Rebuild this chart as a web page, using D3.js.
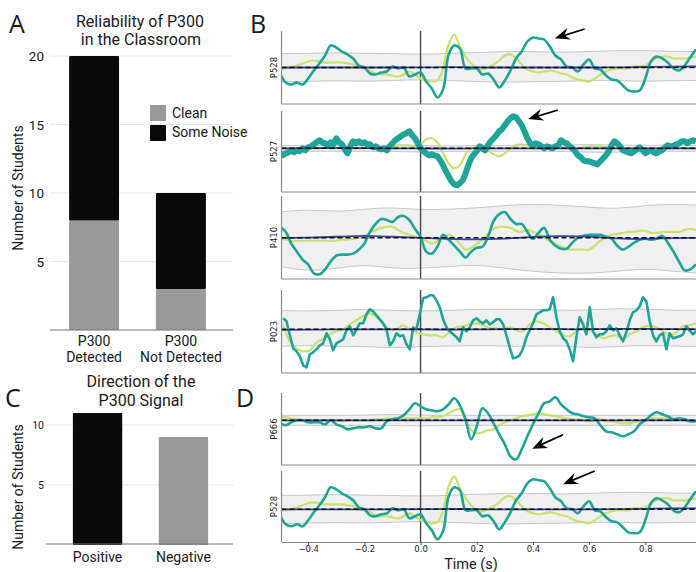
<!DOCTYPE html>
<html>
<head>
<meta charset="utf-8">
<script src="https://cdn.jsdelivr.net/npm/d3@7"></script>
<style>
  body { margin: 0; background: #fff; }
  svg { display: block; }
  text { font-family: Roboto, sans-serif; fill: #1a1a1a; }
  .mpl text { font-family: 'DejaVu Sans', sans-serif; }
</style>
</head>
<body>
<div id="graf"></div>
<script>
// ---- A: reliability of the P300 ----
const relCategories = ['P300 Detected', 'P300 Not Detected']
const relClean = [8, 3]
const relNoise = [12, 7]
const relTicks = [5, 10, 15, 20]

// ---- C: direction of the P300 ----
const dirCategories = ['Positive', 'Negative']
const dirCounts = [11, 9]
const dirTicks = [5, 10]

// ---- B / D: single-student ERPs (amplitude, a.u.) ----
const timeTicks = [-0.4, -0.2, 0, 0.2, 0.4, 0.6, 0.8, 1.0]

// sampled every 20 ms from -0.5 s
const p528Teal = [-6, -15, -17, -15, -17, -11, -3, 4, 12, 22,
  20, 16, 13, 9, 2, 0, -6, -7, -5, -4,
  1, -1, 0, -9, -7, -5, -14, -21, -30, -22,
  13, 22, 19, -1, -1, -1, -7, -6, -12, -20,
  -13, -3, 9, 16, 26, 30, 29, 28, 21, 12,
  8, 1, 0, -4, 3, 8, -1, -2, -8, -12,
  -13, -18, -23, -24, -23, -11, 6, 11, 9, 5,
  -1, -3, 2, 10, 18]
const p528Yellow = [-1, -1, 0, 2, 4, 6, 7, 6, 5, 5,
  5, 5, 4, 3, 0, -1, -3, -6, -7, -7,
  -8, -9, -7, -4, -7, -11, -13, -14, -13, -1,
  23, 33, 21, 11, 4, -1, -2, 0, 3, 7,
  12, 13, 9, 3, -2, -4, -5, -4, -3, -4,
  -6, -7, -10, -12, -13, -14, -11, -7, -4, -2,
  -1, -1, -1, 1, 1, 2, 6, 9, 11, 11,
  9, 9, 9, 10, 11]

// sampled every 10 ms from -0.5 s
const p527Teal = [-5, -7, -5, -4, -2, -4, -2, -3, 0, -2,
  1, 2, 4, 6, 8, 6, 5, 3, 6, 4,
  10, 6, 4, -1, -5, 2, 7, 5, 7, 5,
  6, 4, 4, 1, 2, 0, -1, 0, -2, 2,
  5, 8, 10, 12, 14, 15, 17, 13, 10, 5,
  0, -3, -5, -7, -6, -7, -8, -12, -17, -23,
  -28, -33, -36, -37, -35, -32, -25, -17, -10, -6,
  -3, 2, 0, -2, 3, 7, 10, 13, 17, 19,
  23, 27, 30, 32, 31, 27, 23, 17, 10, 5,
  3, 5, 4, 2, 0, 2, 1, 0, 2, 3,
  8, 6, 5, 2, 0, -3, -7, -9, -12, -13,
  -13, -14, -15, -16, -13, -10, -7, -3, 3, 7,
  5, 2, -2, -3, -4, -5, -3, -1, 1, -2,
  -5, -3, -2, -4, -5, -3, -2, 1, 3, 2,
  2, 4, 5, 7, 7, 5, 7, 8, 7]
const p527Yellow = [0, 0, -1, 0, 0, 1, 0, 0, 1, 0,
  0, 1, 1, 0, 0, 0, 1, 1, 0, 1,
  2, 3, 3, 3, 2, 4, 9, 10, 6, -5,
  -15, -20, -17, -6, 0, 1, 0, -2, -6, -8,
  -5, 0, 3, 4, 3, 1, 0, 0, 0, 1,
  1, 1, 1, 0, 1, 2, 2, 2, 1, 1,
  0, 0, -1, -1, 0, 0, 0, 0, 0, 1,
  1, 1, 0, 0, 0]

const p410Teal = [11, 6, -6, -14, -22, -27, -36, -37, -32, -24,
  -18, -17, -17, -16, -12, -6, 6, 14, 19, 18,
  16, 21, 22, 18, 9, 1, -14, -16, -9, 3,
  -2, -8, -14, -20, -14, -10, -9, 1, 17, 24,
  26, 19, 14, 14, 6, -1, 5, 10, -2, -8,
  -11, -11, -5, 0, 2, 3, 3, 3, 1, -1,
  -8, -12, -9, -5, -2, -1, -2, -1, 2, -5,
  -14, -24, -33, -32, -27]
const p410Yellow = [-1, -2, -3, -3, -3, -3, -3, -3, -3, -3,
  -3, -2, -2, -1, 0, 2, 5, 8, 10, 11,
  11, 8, 5, 3, 1, 0, -3, -6, -3, 1,
  3, 0, -6, -12, -10, -6, -2, 4, 9, 11,
  11, 10, 7, 6, 8, 6, 4, 0, -3, -6,
  -9, -11, -12, -12, -12, -12, -8, -3, 0, 3,
  4, 5, 6, 6, 7, 7, 5, 5, 6, 6,
  6, 6, 8, 9, 8]

// sampled about every 12 ms from -0.49 s
const p023Teal = [11, 8, -6, -19, -22, -27, -36, -38, -25, -23,
  -20, -16, -14, -4, -10, -21, -14, -12, -10, -1,
  3, -6, 0, 6, 6, 15, 20, 18, 14, 10,
  6, 0, -16, -12, -4, -7, -6, -15, -20, 2,
  0, 15, 31, 32, 34, 34, 29, 22, 10, 2,
  -2, -5, -8, -12, 2, -2, 2, 9, 11, 8,
  6, 9, 5, 7, 10, 10, 5, -6, -18, -29,
  -28, -26, -19, -8, -1, 6, 15, 17, 19, 19,
  20, 32, 12, -2, -9, -12, -20, -32, -8, 12,
  5, -5, 22, -2, -8, -5, -5, -2, 4, -1,
  1, -6, -12, -3, 9, 17, 19, 23, 32, 28,
  8, -6, -12, -6, -4, -20, -4, -9, -8, -7,
  -5, 3, -1, -5, -2]
// sampled about every 24 ms from -0.49 s
const p023Yellow = [4, -12, -19, -22, -21, -13, -10, -5, -2, 0,
  5, 9, 13, 16, 12, 6, 0, 0, 4, 0,
  -3, -5, -6, -6, -8, -2, 2, 3, 5, 6,
  4, 1, 1, 0, 2, -1, -2, 5, 8, 6,
  2, -2, -6, -7, -2, 1, -1, -5, -9, -7,
  -6, -10, -5, -2, 2, 4, 2, -2, -6, -3,
  3, 4, 6]

const p666Teal = [-3, -5, -2, 0, 0, -2, -2, -2, -4, 0,
  -4, -6, -9, -8, -7, -7, -6, -8, -8, -1,
  1, 2, 5, 11, 17, 14, 11, 10, 9, 11,
  16, 22, 15, 1, -19, -6, 12, 7, -3, -14,
  -24, -36, -39, -29, -16, -4, 7, 17, 19, 23,
  16, 11, 7, 6, 4, 3, 2, -5, -11, -12,
  -14, -16, -14, -11, -4, 0, 5, 8, 6, 4,
  1, 2, 1, -1, -1]
const p666Yellow = [3, 3, 2, 1, 0, 0, 0, 0, 0, 0,
  0, -1, 0, 0, 0, 0, 0, 1, 1, 2,
  2, 2, 2, 2, 2, 2, 2, 3, 3, 4,
  7, 10, 11, 1, -10, -13, -12, -10, -9, -5,
  -2, 0, 2, 4, 5, 6, 7, 6, 5, 4,
  3, 2, 1, 1, 0, -1, 0, 1, -1, -1,
  -2, -3, -3, -2, -1, 1, 2, 2, 2, 2,
  1, 1, 0, -1, -1]

// null band and mean of shuffled data, every 100 ms from -0.5 s
const p528Upper = [14, 14, 15, 14, 14, 13, 14, 15, 16, 16, 15, 16, 17, 17, 16, 16]
const p528Lower = [-14, -14, -13, -14, -13, -12, -13, -14, -15, -14, -14, -13, -13, -14, -13, -13]
const p528Blue = [0, 0, 0, 0, 0, 0, 0.5, 0, 0, 0, 0, 0, 0, 0.5, 1, 1]
const p527Upper = [3, 3, 3, 3, 3, 3, 2, 3, 3, 3, 3, 4, 3, 3, 3, 3]
const p527Lower = [-3, -3, -3, -3, -3, -4, -3, -3, -3, -3, -3, -4, -4, -3, -3, -3]
const p527Blue = [0, 0, 0.5, 0, 0, 0, -0.5, 0, 0, 0, 0, 0, 0, 0, 0, 0]
const p410Upper = [26, 29, 26, 29, 31, 28, 29, 30, 33, 34, 33, 31, 29, 33, 34, 33]
const p410Lower = [-29, -34, -31, -27, -31, -31, -29, -27, -31, -34, -36, -36, -34, -31, -34, -36]
const p410Blue = [0, 0, 1, 2.5, 1, 0, -1, -2, -1, 1, 2, 1.5, -1, -1.5, 0, 0]
const p023Upper = [19, 18, 19, 20, 19, 18, 19, 20, 20, 20, 19, 19, 21, 20, 19, 19]
const p023Lower = [-17, -16, -17, -17, -19, -17, -17, -16, -17, -17, -16, -19, -17, -16, -17, -17]
const p023Blue = [-0.5, -0.5, 0, 0, 0, 0, -0.5, 0, 0, 0.5, 0, 0, 0.5, 0.5, 0, 0]
const p666Upper = [5, 5, 5, 5, 6, 5, 5, 5, 5, 5, 5, 5, 5, 5, 5, 5]
const p666Lower = [-5, -5, -5, -5, -5, -6, -5, -5, -5, -5, -5, -5, -5, -5, -5, -5]
const p666Blue = [0, 0, 0, 0, 0, 0, 0, 0, 0, 0, 0, 0, 0, 0, 0, 0]

// arrows: [tail t, tail amp, head t, head amp]
const p528Arrow = [0.584, 38.5, 0.478, 29.2]
const p527Arrow = [0.489, 38.3, 0.383, 29.3]
const p666Arrow = [0.507, -14.4, 0.397, -28.4]
const p528bArrow = [0.62, 38.3, 0.507, 25]

const withTime = (vals, t0, dt) => vals.map((v, i) => [t0 + i * dt, v])

const svg = d3.select('#graf')
  .append('svg')
  .attr('width', 696)
  .attr('height', 572)

const colGray = '#999999'
const colBlack = '#0a0a0a'

// panel letters
const letters = [['A', 9, 33], ['B', 250, 33], ['C', 5, 407], ['D', 236, 407]]
svg.selectAll('.letter').data(letters).enter()
  .append('text')
  .attr('x', d => d[1])
  .attr('y', d => d[2])
  .attr('font-size', 25)
  .style('font-family', "'Open Sans', sans-serif")
  .text(d => d[0])

// ================= Panel A =================
const gA = svg.append('g')
const yA = d3.scaleLinear().domain([0, 20]).range([330, 56])
const xA = d3.scaleBand().domain(relCategories).range([50, 225])
  .paddingInner(0.425).paddingOuter(0.22)

gA.selectAll('.grid').data(relTicks).enter()
  .append('line')
  .attr('x1', 50).attr('x2', 233)
  .attr('y1', d => yA(d)).attr('y2', d => yA(d))
  .attr('stroke', '#e8e8e8')

gA.selectAll('.tick').data(relTicks).enter()
  .append('text')
  .attr('x', 44).attr('y', d => yA(d) + 5)
  .attr('text-anchor', 'end')
  .attr('font-size', 13.5)
  .text(d => d)

const relRows = relCategories.map((c, i) => ({ cat: c, clean: relClean[i], noise: relNoise[i] }))
const stackA = d3.stack().keys(['clean', 'noise'])(relRows)
const colA = { clean: colGray, noise: colBlack }

gA.selectAll('.layer').data(stackA).enter()
  .append('g')
  .attr('fill', d => colA[d.key])
  .selectAll('rect').data(d => d).enter()
  .append('rect')
  .attr('x', d => xA(d.data.cat))
  .attr('width', xA.bandwidth())
  .attr('y', d => yA(d[1]))
  .attr('height', d => yA(d[0]) - yA(d[1]))
  .attr('rx', 1)

gA.append('line')
  .attr('x1', 50).attr('x2', 233)
  .attr('y1', 330).attr('y2', 330)
  .attr('stroke', '#777').attr('stroke-width', 1.2)

relCategories.forEach(c => {
  const words = c.split(' ')
  const cx = xA(c) + xA.bandwidth() / 2
  gA.append('text').attr('x', cx).attr('y', 346).attr('text-anchor', 'middle')
    .attr('font-size', 14).text(words[0])
  gA.append('text').attr('x', cx).attr('y', 362).attr('text-anchor', 'middle')
    .attr('font-size', 14).text(words.slice(1).join(' '))
})

gA.append('text')
  .attr('transform', 'translate(23, 188) rotate(-90)')
  .attr('text-anchor', 'middle')
  .attr('font-size', 14)
  .text('Number of Students')

gA.append('text').attr('x', 140).attr('y', 27).attr('text-anchor', 'middle')
  .attr('font-size', 16).text('Reliability of P300')
gA.append('text').attr('x', 141).attr('y', 45).attr('text-anchor', 'middle')
  .attr('font-size', 16).text('in the Classroom')

// legend
const legend = [['Clean', colGray], ['Some Noise', colBlack]]
legend.forEach((d, i) => {
  gA.append('rect').attr('x', 150).attr('y', 105 + i * 20)
    .attr('width', 16).attr('height', 16).attr('rx', 1).attr('fill', d[1])
  gA.append('text').attr('x', 172).attr('y', 118 + i * 19)
    .attr('font-size', 14).text(d[0])
})

// ================= Panel C =================
const gC = svg.append('g')
const yC = d3.scaleLinear().domain([0, 12]).range([545, 401])
const xC = d3.scaleBand().domain(dirCategories).range([54, 227])
  .paddingInner(0.425).paddingOuter(0.22)

gC.selectAll('.grid').data(dirTicks).enter()
  .append('line')
  .attr('x1', 47).attr('x2', 234)
  .attr('y1', d => yC(d)).attr('y2', d => yC(d))
  .attr('stroke', '#e8e8e8')

gC.selectAll('.tick').data(dirTicks).enter()
  .append('text')
  .attr('x', 44).attr('y', d => yC(d) + 4)
  .attr('text-anchor', 'end')
  .attr('font-size', 10.5)
  .text(d => d)

gC.selectAll('rect').data(dirCounts).enter()
  .append('rect')
  .attr('x', (d, i) => xC(dirCategories[i]))
  .attr('width', xC.bandwidth())
  .attr('y', d => yC(d))
  .attr('height', d => yC(0) - yC(d))
  .attr('rx', 1)
  .attr('fill', (d, i) => i === 0 ? colBlack : colGray)

gC.append('line')
  .attr('x1', 46).attr('x2', 233)
  .attr('y1', 544).attr('y2', 544)
  .attr('stroke', '#777').attr('stroke-width', 1.2)

gC.selectAll('.xlab').data(dirCategories).enter()
  .append('text')
  .attr('x', d => xC(d) + xC.bandwidth() / 2)
  .attr('y', 562)
  .attr('text-anchor', 'middle')
  .attr('font-size', 14)
  .text(d => d)

gC.append('text')
  .attr('transform', 'translate(23, 487) rotate(-90)')
  .attr('text-anchor', 'middle')
  .attr('font-size', 14)
  .text('Number of Students')

gC.append('text').attr('x', 141).attr('y', 387).attr('text-anchor', 'middle')
  .attr('font-size', 16).text('Direction of the')
gC.append('text').attr('x', 141).attr('y', 406).attr('text-anchor', 'middle')
  .attr('font-size', 16).text('P300 Signal')

// ================= Panels B and D =================
const xT = d3.scaleLinear().domain([-0.495, 1.0]).range([281.5, 701.5])
const xLeft = xT(-0.495)

const erpPanels = [
  { name: 'P528', top: 31, bottom: 104, dom: [-36.5, 36.5], teal: withTime(p528Teal, -0.5, 0.02),
    yellow: withTime(p528Yellow, -0.5, 0.02), upper: p528Upper, lower: p528Lower, blue: p528Blue,
    arrow: p528Arrow, tw: 2.6, curve: d3.curveCatmullRom },
  { name: 'P527', top: 111, bottom: 192, dom: [-43.7, 37.3], teal: withTime(p527Teal, -0.5, 0.01),
    yellow: withTime(p527Yellow, -0.5, 0.02), upper: p527Upper, lower: p527Lower, blue: p527Blue,
    arrow: p527Arrow, tw: 6, curve: d3.curveLinear },
  { name: 'P410', top: 196, bottom: 279, dom: [-41.7, 42.3], teal: withTime(p410Teal, -0.5, 0.02),
    yellow: withTime(p410Yellow, -0.5, 0.02), upper: p410Upper, lower: p410Lower, blue: p410Blue,
    arrow: null, tw: 2.6, curve: d3.curveCatmullRom },
  { name: 'P023', top: 290, bottom: 373, dom: [-43.7, 39.3], teal: withTime(p023Teal, -0.489, 0.01186),
    yellow: withTime(p023Yellow, -0.489, 0.02372), upper: p023Upper, lower: p023Lower, blue: p023Blue,
    arrow: null, tw: 2.6, curve: d3.curveLinear },
  { name: 'P666', top: 393, bottom: 465, dom: [-44.7, 27.3], teal: withTime(p666Teal, -0.5, 0.02),
    yellow: withTime(p666Yellow, -0.5, 0.02), upper: p666Upper, lower: p666Lower, blue: p666Blue,
    arrow: p666Arrow, tw: 2.6, curve: d3.curveCatmullRom },
  { name: 'P528', top: 471, bottom: 542, dom: [-32.7, 38.3], teal: withTime(p528Teal, -0.5, 0.02),
    yellow: withTime(p528Yellow, -0.5, 0.02), upper: p528Upper, lower: p528Lower, blue: p528Blue,
    arrow: p528bArrow, tw: 2.6, curve: d3.curveCatmullRom, axis: true },
]

const defs = svg.append('defs')

erpPanels.forEach((p, idx) => {
  const g = svg.append('g').attr('class', 'mpl')
  const y = d3.scaleLinear().domain(p.dom).range([p.bottom, p.top])
  const clipId = 'clip' + idx

  defs.append('clipPath').attr('id', clipId)
    .append('rect')
    .attr('x', xLeft).attr('y', p.top)
    .attr('width', 696 - xLeft).attr('height', p.bottom - p.top)

  const inner = g.append('g').attr('clip-path', `url(#${clipId})`)

  const band = withTime(p.upper, -0.5, 0.1).map((d, i) => [d[0], p.lower[i], d[1]])
  inner.append('path')
    .datum(band)
    .attr('fill', '#f0f0f0')
    .attr('d', d3.area().x(d => xT(d[0])).y0(d => y(d[1])).y1(d => y(d[2])).curve(d3.curveBasis))

  const bandLine = d3.line().x(d => xT(d[0])).y(d => y(d[1])).curve(d3.curveBasis)
  ;[p.upper, p.lower].forEach(arr => {
    inner.append('path')
      .datum(withTime(arr, -0.5, 0.1))
      .attr('fill', 'none')
      .attr('stroke', '#c6c6c6')
      .attr('stroke-width', 1)
      .attr('d', bandLine)
  })

  inner.append('line')
    .attr('x1', xT(0)).attr('x2', xT(0))
    .attr('y1', p.top - 2).attr('y2', p.bottom)
    .attr('stroke', '#4a4a4a').attr('stroke-width', 1.4)

  const line = d3.line().x(d => xT(d[0])).y(d => y(d[1]))

  inner.append('path')
    .attr('fill', 'none')
    .attr('stroke', '#c8e16a')
    .attr('stroke-width', 2.2)
    .attr('stroke-linejoin', 'round')
    .attr('d', line.curve(d3.curveCatmullRom)(p.yellow))

  inner.append('path')
    .attr('fill', 'none')
    .attr('stroke', '#1ea498')
    .attr('stroke-width', p.tw)
    .attr('stroke-linejoin', 'round')
    .attr('d', line.curve(p.curve)(p.teal))

  inner.append('path')
    .datum(withTime(p.blue, -0.5, 0.1))
    .attr('fill', 'none')
    .attr('stroke', '#3346a6')
    .attr('stroke-width', 1.8)
    .attr('d', bandLine)

  inner.append('line')
    .attr('x1', xLeft).attr('x2', 696)
    .attr('y1', y(0)).attr('y2', y(0))
    .attr('stroke', '#111')
    .attr('stroke-width', 1.5)
    .attr('stroke-dasharray', '5,3')

  // spines
  g.append('line')
    .attr('x1', xLeft).attr('x2', xLeft)
    .attr('y1', p.top).attr('y2', p.bottom)
    .attr('stroke', '#8a8a8a').attr('stroke-width', 1.2)

  if (p.axis) {
    const ax = g.append('g')
      .attr('transform', `translate(0, ${p.bottom})`)
      .call(d3.axisBottom(xT).tickValues(timeTicks).tickSize(3).tickPadding(1).tickSizeOuter(0)
        .tickFormat(d3.format('.1f')))
    ax.select('.domain').attr('stroke', '#8a8a8a').attr('stroke-width', 1.2)
    ax.selectAll('.tick line').attr('stroke', '#555')
    ax.selectAll('.tick text').attr('font-size', 8.5).attr('fill', '#333')
      .style('font-family', "'DejaVu Sans', sans-serif")
  } else {
    g.append('line')
      .attr('x1', xLeft).attr('x2', 696)
      .attr('y1', p.bottom).attr('y2', p.bottom)
      .attr('stroke', '#8a8a8a').attr('stroke-width', 1.2)
  }

  g.append('text')
    .attr('transform', `translate(277, ${(p.top + p.bottom) / 2}) rotate(-90)`)
    .attr('text-anchor', 'middle')
    .attr('font-size', 8.5)
    .attr('fill', '#333')
    .text(p.name)

  if (p.arrow) {
    const a = p.arrow
    const x1 = xT(a[0]), y1 = y(a[1]), x2 = xT(a[2]), y2 = y(a[3])
    const ang = Math.atan2(y2 - y1, x2 - x1)
    const c = Math.cos(ang), s = Math.sin(ang)
    const len = 15, half = 6, notch = 10
    g.append('line')
      .attr('x1', x1).attr('y1', y1)
      .attr('x2', x2 - notch * c).attr('y2', y2 - notch * s)
      .attr('stroke', '#000')
      .attr('stroke-width', 1.8)
    const head = [
      [x2, y2],
      [x2 - len * c + half * s, y2 - len * s - half * c],
      [x2 - notch * c, y2 - notch * s],
      [x2 - len * c - half * s, y2 - len * s + half * c],
    ]
    g.append('path')
      .attr('d', 'M' + head.map(d => d.join(',')).join('L') + 'Z')
      .attr('fill', '#000')
  }
})

svg.append('text')
  .attr('x', 471).attr('y', 568.5)
  .attr('text-anchor', 'middle')
  .attr('font-size', 14.5)
  .text('Time (s)')
</script>
</body>
</html>
